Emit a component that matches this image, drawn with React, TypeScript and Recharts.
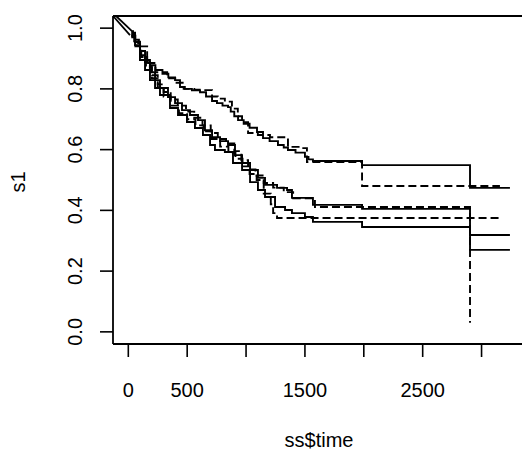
import React from 'react';
import { LineChart, Line, XAxis, YAxis, ReferenceLine } from 'recharts';

// survival step curves, [time, survival]
const CURVE_A: [number, number][] = [
  [25, 0.985], [57, 0.955], [99, 0.925], [142, 0.895], [184, 0.878], [230, 0.862], [290, 0.85], [340, 0.838],
  [397, 0.829], [439, 0.806], [480, 0.8], [540, 0.795], [609, 0.789], [660, 0.775], [711, 0.76], [753, 0.753],
  [800, 0.745], [847, 0.74], [870, 0.725], [900, 0.71], [932, 0.697], [980, 0.685], [1030, 0.672], [1093, 0.658],
  [1144, 0.638], [1200, 0.628], [1271, 0.615], [1320, 0.607], [1356, 0.599], [1420, 0.59], [1500, 0.576],
  [1530, 0.568], [1568, 0.5625], [1985, 0.549], [2902, 0.474], [3241, 0.474],
];
const CURVE_B: [number, number][] = [
  [25, 0.99], [40, 0.962], [90, 0.94], [160, 0.885], [230, 0.855], [330, 0.835], [410, 0.82], [470, 0.8],
  [560, 0.797], [640, 0.796], [711, 0.775], [760, 0.768], [820, 0.758], [880, 0.735], [930, 0.71], [966, 0.69],
  [1017, 0.655], [1100, 0.648], [1203, 0.641], [1356, 0.609], [1475, 0.605], [1517, 0.559], [1985, 0.48],
  [3156, 0.48],
];
const CURVE_C: [number, number][] = [
  [25, 0.975], [60, 0.94], [110, 0.905], [160, 0.875], [200, 0.845], [250, 0.815], [300, 0.79], [360, 0.765],
  [420, 0.745], [490, 0.725], [560, 0.705], [630, 0.68], [700, 0.655], [760, 0.635], [830, 0.62], [900, 0.595],
  [960, 0.565], [1017, 0.535], [1080, 0.515], [1150, 0.49], [1230, 0.475], [1320, 0.46], [1400, 0.44],
  [1585, 0.411], [2902, 0.03],
];
const CURVE_D: [number, number][] = [
  [25, 0.98], [57, 0.944], [99, 0.911], [142, 0.888], [184, 0.855], [227, 0.829], [269, 0.803], [337, 0.773],
  [397, 0.753], [456, 0.73], [524, 0.714], [592, 0.697], [651, 0.664], [711, 0.641], [779, 0.628], [847, 0.615],
  [906, 0.582], [966, 0.556], [1034, 0.533], [1101, 0.507], [1161, 0.484], [1263, 0.474], [1348, 0.467],
  [1390, 0.441], [1568, 0.418], [1985, 0.405], [2902, 0.319], [3241, 0.319],
];
const CURVE_E: [number, number][] = [
  [25, 0.97], [50, 0.95], [100, 0.905], [150, 0.87], [200, 0.835], [250, 0.805], [300, 0.775], [360, 0.745],
  [430, 0.72], [500, 0.7], [570, 0.68], [640, 0.66], [710, 0.635], [780, 0.61], [850, 0.59], [910, 0.57],
  [970, 0.545], [1030, 0.52], [1090, 0.5], [1150, 0.455], [1210, 0.42], [1230, 0.391], [1263, 0.375],
  [3168, 0.375],
];
const CURVE_F: [number, number][] = [
  [25, 0.975], [57, 0.954], [99, 0.895], [142, 0.862], [184, 0.829], [227, 0.803], [269, 0.78], [354, 0.737],
  [422, 0.714], [498, 0.691], [566, 0.671], [634, 0.648], [694, 0.615], [736, 0.599], [820, 0.592], [889, 0.556],
  [966, 0.533], [1034, 0.493], [1101, 0.467], [1161, 0.444], [1246, 0.411], [1331, 0.401], [1390, 0.391],
  [1500, 0.378], [1568, 0.362], [1985, 0.345], [2902, 0.27], [3241, 0.27],
];
// the two straight lead-in segments from the top-left corner
const DIAG_1: [number, number][] = [[-130, 1.04], [14, 0.977]];
const DIAG_2: [number, number][] = [[-104, 1.04], [31, 0.99]];

const X_TICKS = [0, 500, 1000, 1500, 2000, 2500, 3000];
const X_LABELS = ['0', '500', '', '1500', '', '2500', ''];
const Y_TICKS = [0, 0.2, 0.4, 0.6, 0.8, 1.0];
const X_DOMAIN = [-130, 3380];
const Y_DOMAIN = [-0.04, 1.04];

const FONT = '"Liberation Sans", Arial, Helvetica, sans-serif';

const toRows = (pts: [number, number][]) => pts.map(([t, s]) => ({ t, s }));

const solid = [CURVE_A, CURVE_D, CURVE_F];
const dashed = [CURVE_B, CURVE_C, CURVE_E];

const YTick = (props: any) => {
  const { x, y, payload } = props;
  return (
    <text x={x} y={y} transform={`rotate(-90, ${x}, ${y})`} textAnchor="middle" fontSize={20} fontFamily={FONT} fill="#000">
      {Number(payload.value).toFixed(1)}
    </text>
  );
};

export default function App() {
  return (
    <div style={{ position: 'absolute', left: 0, top: 0, width: 522, height: 453, overflow: 'hidden', background: '#fff', color: '#000' }}>
      <LineChart width={540} height={453} margin={{ top: 16, right: 13.7, left: 0, bottom: 0 }}>
        <XAxis
          dataKey="t"
          type="number"
          domain={X_DOMAIN}
          ticks={X_TICKS}
          interval={0}
          allowDataOverflow
          height={109}
          tickSize={13}
          tickMargin={26}
          tickFormatter={(v: number) => X_LABELS[X_TICKS.indexOf(v)] ?? ''}
          tick={{ fontSize: 20, fontFamily: FONT, fill: '#000' }}
          stroke="#000"
          axisLine={{ stroke: '#000', strokeWidth: 1.8 }}
          tickLine={{ stroke: '#000', strokeWidth: 1.6 }}
        />
        <YAxis
          type="number"
          domain={Y_DOMAIN}
          ticks={Y_TICKS}
          interval={0}
          allowDataOverflow
          width={113}
          tickSize={13}
          tickMargin={18}
          tick={<YTick />}
          axisLine={{ stroke: '#000', strokeWidth: 1.8 }}
          tickLine={{ stroke: '#000', strokeWidth: 1.6 }}
        />
        <ReferenceLine y={Y_DOMAIN[1]} stroke="#000" strokeWidth={1.8} ifOverflow="visible" />
        {[DIAG_1, DIAG_2].map((d, i) => (
          <Line key={`diag-${i}`} data={toRows(d)} dataKey="s" type="linear" stroke="#000" strokeWidth={1.8}
            dot={false} activeDot={false} isAnimationActive={false} />
        ))}
        {solid.map((c, i) => (
          <Line key={`solid-${i}`} data={toRows(c)} dataKey="s" type="stepAfter" stroke="#000" strokeWidth={1.9}
            dot={false} activeDot={false} isAnimationActive={false} />
        ))}
        {dashed.map((c, i) => (
          <Line key={`dash-${i}`} data={toRows(c)} dataKey="s" type="stepAfter" stroke="#000" strokeWidth={1.9}
            strokeDasharray="8 4" dot={false} activeDot={false} isAnimationActive={false} />
        ))}
      </LineChart>
      <div style={{ position: 'absolute', left: 18, top: 182, transform: 'translate(-50%, -50%) rotate(-90deg)', fontFamily: FONT, fontSize: 20, lineHeight: 1, whiteSpace: 'nowrap', color: '#000' }}>
        s1
      </div>
      <div style={{ position: 'absolute', left: 319, top: 440, transform: 'translate(-50%, -50%)', fontFamily: FONT, fontSize: 20, lineHeight: 1, whiteSpace: 'nowrap', color: '#000' }}>
        ss$time
      </div>
    </div>
  );
}
